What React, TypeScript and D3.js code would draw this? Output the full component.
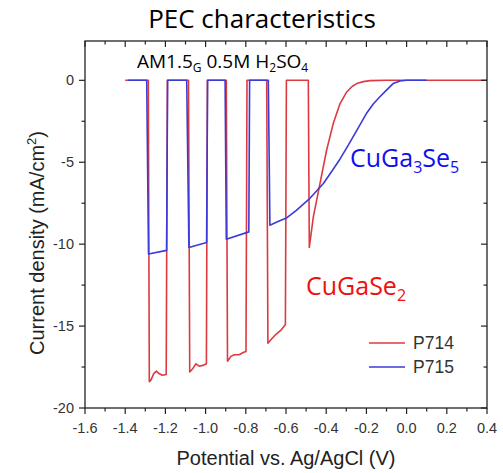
import React from "react";
import * as d3 from "d3";

// Chopped-light linear sweep voltammetry, potential (V vs Ag/AgCl) vs current density (mA/cm²)
const p714: [number, number][] = [
  [-1.4, 0], [-1.285, 0], [-1.28, -18.4], [-1.272, -18.3], [-1.258, -17.9],
  [-1.245, -17.75], [-1.232, -17.9], [-1.215, -18.0], [-1.196, -17.95], [-1.19, 0],
  [-1.085, 0], [-1.079, -17.8], [-1.064, -17.6], [-1.048, -17.3], [-1.032, -17.45],
  [-1.014, -17.4], [-0.996, -17.3], [-0.991, 0],
  [-0.897, 0], [-0.891, -17.15], [-0.874, -16.85], [-0.858, -16.75], [-0.833, -16.75],
  [-0.81, -16.6], [-0.799, -16.55], [-0.794, 0],
  [-0.696, 0], [-0.69, -16.05], [-0.673, -15.8], [-0.65, -15.5], [-0.625, -15.25],
  [-0.603, -14.9], [-0.598, 0],
  [-0.489, 0], [-0.484, -10.2], [-0.464, -8.33], [-0.431, -6.3], [-0.398, -4.27],
  [-0.365, -2.64], [-0.331, -1.42], [-0.298, -0.71], [-0.27, -0.36], [-0.248, -0.2],
  [-0.215, -0.08], [-0.182, -0.02], [-0.1, 0], [0.4, 0],
];

const p715: [number, number][] = [
  [-1.385, 0], [-1.293, 0], [-1.284, -10.6], [-1.194, -10.38], [-1.189, 0],
  [-1.094, 0], [-1.083, -10.2], [-0.995, -9.9], [-0.99, 0],
  [-0.903, 0], [-0.897, -9.7], [-0.785, -9.25], [-0.781, 0],
  [-0.688, 0], [-0.68, -8.84], [-0.64, -8.62], [-0.597, -8.4], [-0.55, -7.95],
  [-0.481, -7.2], [-0.414, -6.3], [-0.372, -5.55], [-0.331, -4.8], [-0.29, -3.95],
  [-0.25, -3.1], [-0.2, -2.03], [-0.166, -1.45], [-0.134, -1.02], [-0.1, -0.6],
  [-0.067, -0.2], [-0.033, -0.04], [0.0, 0], [0.1, 0],
];

const xMajor = [-1.6, -1.4, -1.2, -1.0, -0.8, -0.6, -0.4, -0.2, 0.0, 0.2, 0.4];
const xMinor = [-1.5, -1.3, -1.1, -0.9, -0.7, -0.5, -0.3, -0.1, 0.1, 0.3];
const yMajor = [0, -5, -10, -15, -20];
const yMinor = [-2.5, -7.5, -12.5, -17.5];

const legendItems = [
  { name: "P714", color: "#dc3a40" },
  { name: "P715", color: "#3b3bd8" },
];

const W = 503;
const H = 473;
const L = 85, R = 487, T = 41, B = 408;

export default function App() {
  const x = d3.scaleLinear().domain([-1.6, 0.4]).range([L, R]);
  const y = d3.scaleLinear().domain([-20, 2.4]).range([B, T]);
  const line = d3.line<[number, number]>().x((d) => x(d[0])).y((d) => y(d[1]));
  const tickFont = "'Liberation Sans', Arial, sans-serif";
  const calFont = "'Open Sans', sans-serif";
  const axisColor = "#222";

  return (
    <svg width={W} height={H} style={{ position: "absolute", left: 0, top: 0, background: "#fff" }}>
      <rect x={0} y={0} width={W} height={H} fill="#fff" />
      <text x={262} y={28} textAnchor="middle" fontFamily={calFont} fontSize={26} fill="#000">
        PEC characteristics
      </text>

      <defs>
        <clipPath id="plotClip">
          <rect x={L} y={T} width={R - L} height={B - T} />
        </clipPath>
      </defs>
      <g clipPath="url(#plotClip)">
        <path d={line(p714) || ""} fill="none" stroke={legendItems[0].color} strokeWidth={1.6} strokeLinejoin="round" />
        <path d={line(p715) || ""} fill="none" stroke={legendItems[1].color} strokeWidth={1.6} strokeLinejoin="round" />
      </g>

      {/* frame */}
      <rect x={L} y={T} width={R - L} height={B - T} fill="none" stroke={axisColor} strokeWidth={1.3} />

      {/* x ticks (bottom outward, top inward) */}
      {xMajor.map((v) => (
        <g key={"xM" + v}>
          <line x1={x(v)} x2={x(v)} y1={B} y2={B + 6} stroke={axisColor} strokeWidth={1.2} />
          <line x1={x(v)} x2={x(v)} y1={T} y2={T + 6} stroke={axisColor} strokeWidth={1.2} />
          <text x={x(v)} y={433} textAnchor="middle" fontFamily={tickFont} fontSize={14.5} fill="#333">
            {v.toFixed(1)}
          </text>
        </g>
      ))}
      {xMinor.map((v) => (
        <g key={"xm" + v}>
          <line x1={x(v)} x2={x(v)} y1={B} y2={B + 3.5} stroke={axisColor} strokeWidth={1.2} />
          <line x1={x(v)} x2={x(v)} y1={T} y2={T + 3.5} stroke={axisColor} strokeWidth={1.2} />
        </g>
      ))}

      {/* y ticks (left outward, right inward) */}
      {yMajor.map((v) => (
        <g key={"yM" + v}>
          <line x1={L - 6} x2={L} y1={y(v)} y2={y(v)} stroke={axisColor} strokeWidth={1.2} />
          <line x1={R - 6} x2={R} y1={y(v)} y2={y(v)} stroke={axisColor} strokeWidth={1.2} />
          <text x={L - 11} y={y(v) + 5} textAnchor="end" fontFamily={tickFont} fontSize={14.5} fill="#333">
            {String(v)}
          </text>
        </g>
      ))}
      {yMinor.map((v) => (
        <g key={"ym" + v}>
          <line x1={L - 3.5} x2={L} y1={y(v)} y2={y(v)} stroke={axisColor} strokeWidth={1.2} />
          <line x1={R - 3.5} x2={R} y1={y(v)} y2={y(v)} stroke={axisColor} strokeWidth={1.2} />
        </g>
      ))}

      {/* axis titles */}
      <text x={286} y={465} textAnchor="middle" fontFamily={tickFont} fontSize={20} fill="#222">
        Potential vs. Ag/AgCl (V)
      </text>
      <text transform={`translate(44, ${243}) rotate(-90)`} textAnchor="middle" fontFamily={tickFont} fontSize={20} fill="#222">
        Current density (mA/cm<tspan dy={-8} fontSize={13}>2</tspan><tspan dy={8}>)</tspan>
      </text>

      {/* annotations */}
      <text x={137} y={68} fontFamily={calFont} fontSize={19} fill="#000">
        AM1.5<tspan fontSize={12} dy={4}>G</tspan><tspan dy={-4}> 0.5M H</tspan>
        <tspan fontSize={12} dy={4}>2</tspan><tspan dy={-4}>SO</tspan>
        <tspan fontSize={12} dy={4}>4</tspan>
      </text>
      <text x={350} y={167} fontFamily={calFont} fontSize={25} fill="#1010ee">
        CuGa<tspan fontSize={16} dy={6}>3</tspan><tspan dy={-6}>Se</tspan>
        <tspan fontSize={16} dy={6}>5</tspan>
      </text>
      <text x={306} y={295} fontFamily={calFont} fontSize={25} fill="#ee1010">
        CuGaSe<tspan fontSize={16} dy={6}>2</tspan>
      </text>

      {/* legend */}
      {legendItems.map((it, i) => (
        <g key={it.name}>
          <line x1={369} x2={405} y1={343 + i * 24} y2={343 + i * 24} stroke={it.color} strokeWidth={1.6} />
          <text x={413} y={349 + i * 24} fontFamily={tickFont} fontSize={17.5} fill="#333">
            {it.name}
          </text>
        </g>
      ))}
    </svg>
  );
}
